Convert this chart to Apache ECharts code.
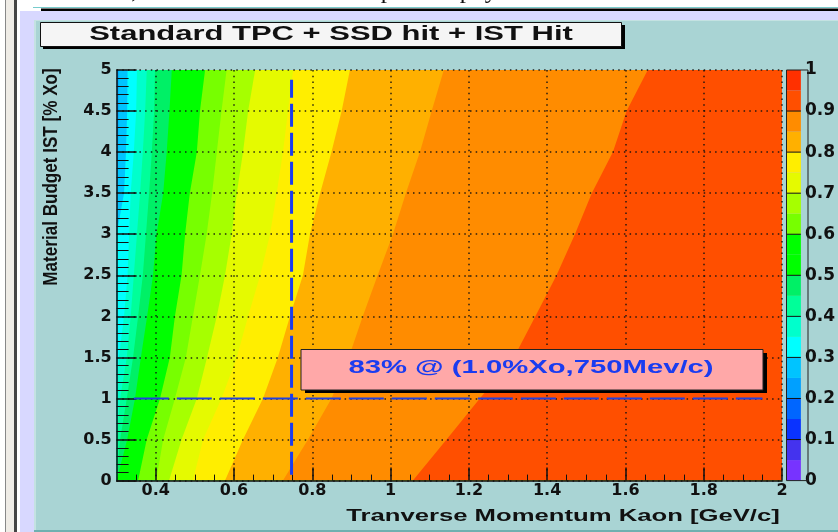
<!DOCTYPE html>
<html>
<head>
<meta charset="utf-8">
<style>
  html, body { margin: 0; padding: 0; background: #fff; }
  #chart { width: 838px; height: 532px; }
</style>
<script src="https://cdn.jsdelivr.net/npm/echarts@6/dist/echarts.min.js"></script>
</head>
<body>
<div id="chart"></div>
<script>
// y rows the contour edges were read at
const yRows = [0, 0.5, 1, 1.5, 2, 2.5, 3, 3.5, 4, 4.5, 5];

// pT of each contour edge at the rows above
const edge25 = [0.3, 0.3, 0.3, 0.3, 0.3, 0.3, 0.3, 0.301, 0.304, 0.305, 0.305];
const edge30 = [0.3, 0.3, 0.3, 0.3, 0.3, 0.3, 0.3, 0.319, 0.324, 0.327, 0.328];
const edge35 = [0.3, 0.3, 0.3, 0.306, 0.319, 0.328, 0.332, 0.336, 0.344, 0.35, 0.352];
const edge40 = [0.3, 0.3, 0.309, 0.326, 0.336, 0.344, 0.352, 0.36, 0.367, 0.373, 0.377];
const edge45 = [0.3, 0.309, 0.326, 0.342, 0.355, 0.367, 0.375, 0.383, 0.39, 0.396, 0.398];
const edge50 = [0.3, 0.327, 0.347, 0.362, 0.378, 0.393, 0.402, 0.419, 0.428, 0.435, 0.441];
const edge60 = [0.355, 0.377, 0.411, 0.436, 0.449, 0.466, 0.475, 0.487, 0.505, 0.513, 0.526];
const edge65 = [0.401, 0.419, 0.449, 0.477, 0.495, 0.513, 0.53, 0.544, 0.556, 0.568, 0.581];
const edge70 = [0.434, 0.466, 0.505, 0.531, 0.556, 0.577, 0.594, 0.607, 0.623, 0.636, 0.654];
const edge75 = [0.495, 0.521, 0.568, 0.607, 0.636, 0.667, 0.692, 0.709, 0.725, 0.738, 0.751];
const edge80 = [0.577, 0.623, 0.674, 0.712, 0.743, 0.776, 0.794, 0.82, 0.849, 0.875, 0.896];
const edge85 = [0.725, 0.789, 0.849, 0.893, 0.929, 0.967, 1.006, 1.039, 1.075, 1.105, 1.136];
const edge90 = [1.057, 1.143, 1.228, 1.315, 1.37, 1.424, 1.471, 1.514, 1.568, 1.603, 1.657];

const contourLevels = [0.25, 0.3, 0.35, 0.4, 0.45, 0.5, 0.6, 0.65, 0.7, 0.75, 0.8, 0.85, 0.9];
const contourEdges = [edge25, edge30, edge35, edge40, edge45, edge50, edge60, edge65, edge70, edge75, edge80, edge85, edge90];

// palette, 20 steps of 0.05 from 0 to 1
const paletteColors = [
  '#7733ff', '#4433ee', '#0a33ff', '#0066ff', '#00a0ff',
  '#00c4ff', '#00ffff', '#00ffcc', '#00ff99', '#00f066',
  '#00ff00', '#00ff00', '#77ff00', '#a6ff00', '#e5fa00',
  '#ffee00', '#ffb000', '#ff8c00', '#ff4f00', '#ff3000',
];
const paletteLevels = paletteColors.map((c, i) => i);

const xTicks = [0.4, 0.6, 0.8, 1, 1.2, 1.4, 1.6, 1.8, 2];
const xMinorTicks = [0.35, 0.45, 0.5, 0.55, 0.65, 0.7, 0.75, 0.85, 0.9, 0.95, 1.05, 1.1, 1.15, 1.25, 1.3, 1.35, 1.45, 1.5, 1.55, 1.65, 1.7, 1.75, 1.85, 1.9, 1.95];

// the two blue marker lines
const markerVerticalX = [0.747, 0.747];
const markerVerticalY = [0.07, 4.88];
const markerHorizontalX = [0.344, 1.95];
const markerHorizontalY = [1, 1];

const titleText = 'Standard TPC + SSD hit + IST Hit';
const noteText = '83% @ (1.0%Xo,750Mev/c)';
const xName = 'Tranverse Momentum Kaon [GeV/c]';
const yName = 'Material Budget IST [% Xo]';
const pageText = 'less than 1%, which has minimum impact on physics.';

const panelColor = '#a9d4d4';
const lavender = '#d8d8ff';
const labelFont = { color: '#111', fontFamily: 'DejaVu Sans', fontWeight: 'bold', fontSize: 16 };
const gridDots = { color: '#111', width: 1.5, type: [1.5, 4.2], opacity: 0.9 };

function renderBand(params, api) {
  const i = api.value(0);
  const edge = i < 0 ? null : contourEdges[i];
  const points = [];
  yRows.forEach((y, k) => points.push(api.coord([edge ? edge[k] : 0.3, y])));
  points.push(api.coord([2, 5]));
  points.push(api.coord([2, 0]));
  const level = i < 0 ? 0.2 : contourLevels[i];
  return {
    type: 'polygon',
    shape: { points },
    style: { fill: paletteColors[Math.round(level / 0.05)] },
  };
}

// one palette step, every second step also carries the black tick line on its lower edge
function renderPaletteStep(params, api) {
  const i = api.value(0);
  const a = api.coord([0, i * 0.05]);
  const b = api.coord([1, (i + 1) * 0.05]);
  const children = [{
    type: 'rect',
    shape: { x: a[0], y: b[1], width: b[0] - a[0], height: a[1] - b[1] },
    style: { fill: paletteColors[i] },
  }];
  if (i % 2 === 0 && i > 0) {
    children.push({
      type: 'line', z2: 5,
      shape: { x1: a[0], y1: a[1], x2: b[0], y2: a[1] },
      style: { stroke: '#111', lineWidth: 1 },
    });
  }
  return { type: 'group', children };
}

function box(x, y, width, height, fill, z, stroke, zlevel) {
  return { type: 'rect', z, zlevel: zlevel || 0, shape: { x, y, width, height }, style: { fill, stroke: stroke || null, lineWidth: stroke ? 1 : 0 } };
}

function label(text, x, y, fontSize, fill, scaleX, rotation) {
  return {
    type: 'text', x, y, scaleX, rotation: rotation || 0, z: 30, zlevel: 2,
    style: {
      text, fill, textAlign: 'center', textVerticalAlign: 'middle',
      font: 'bold ' + fontSize + 'px "Liberation Sans"',
    },
  };
}

const chart = echarts.init(document.getElementById('chart'), null, { renderer: 'canvas' });

chart.setOption({
  backgroundColor: '#fff',
  animation: false,
  graphic: [
    // page around the canvas
    box(5, 0, 1, 532, '#888', -20),
    box(6, 0, 8, 532, '#efece6', -20),
    box(14, 0, 3, 532, '#444', -20),
    box(20, 11, 818, 521, lavender, -20),
    box(33, 7, 805, 1, '#7cc', -19),
    box(41, 8.5, 797, 2.5, '#000', -19),
    box(34, 20, 804, 512, '#c4e2e2', -19),
    box(36, 21, 802, 509, panelColor, -18),
    box(34, 530, 804, 2, '#6fb0b0', -18),
    {
      type: 'text', x: 5, y: 4, z: -17,
      style: { text: pageText, fill: '#111', font: '25px "Liberation Serif"', textVerticalAlign: 'bottom' },
    },
    // title box
    box(43, 25, 582, 24, '#000', 20, null, 2),
    box(40.5, 22.5, 581, 24, '#f5f5f5', 21, '#111', 2),
    label(titleText, 331, 34.5, 21, '#111', 1.475),
    // axis names
    label(xName, 563, 516, 17, '#111', 1.51),
    label(yName, 51, 177, 20, '#111', 0.854, Math.PI / 2),
    // note box
    box(305, 353, 462, 40, '#000', 20, null, 2),
    box(301, 349.5, 462, 40.5, '#ffa8a8', 21, '#222', 2),
    label(noteText, 531, 368, 19, '#1a3cf0', 1.54),
    // palette frame
    { type: 'rect', z: 22, zlevel: 2, shape: { x: 786.5, y: 70, width: 21.5, height: 410.6 }, style: { fill: null, stroke: '#222', lineWidth: 1 } },
  ],
  grid: [
    { left: 116.6, right: 56, top: 70, bottom: 51.4 },
    { left: 786.5, width: 21.5, top: 70, bottom: 51.4 },
  ],
  xAxis: [
    {
      type: 'value', min: 0.3, max: 2, gridIndex: 0, position: 'bottom', zlevel: 1,
      axisLine: { show: true, onZero: false, lineStyle: { color: '#111', width: 1.5 } },
      axisTick: { show: true, inside: true, length: 13, customValues: xTicks, lineStyle: { color: '#111', width: 1.5 } },
      axisLabel: { ...labelFont, margin: 2, customValues: xTicks },
      splitLine: { show: true, customValues: xTicks, lineStyle: gridDots },
    },
    {
      type: 'value', min: 0.3, max: 2, gridIndex: 0, position: 'bottom', zlevel: 1,
      axisLine: { show: false, onZero: false },
      axisTick: { show: true, inside: true, length: 6, customValues: xMinorTicks, lineStyle: { color: '#111', width: 1 } },
      axisLabel: { show: false },
      splitLine: { show: false },
    },
    {
      type: 'value', min: 0, max: 1, gridIndex: 1,
      axisLine: { show: false }, axisTick: { show: false }, axisLabel: { show: false }, splitLine: { show: false },
    },
  ],
  yAxis: [
    {
      type: 'value', min: 0, max: 5, interval: 0.5, gridIndex: 0, zlevel: 1,
      axisLine: { show: true, onZero: false, lineStyle: { color: '#111', width: 1.5 } },
      axisTick: { show: true, inside: true, length: 20, lineStyle: { color: '#111', width: 1.5 } },
      minorTick: { show: true, splitNumber: 5, length: 12, lineStyle: { color: '#111', width: 1 } },
      axisLabel: { ...labelFont, margin: 5 },
      splitLine: { show: true, lineStyle: gridDots },
    },
    {
      type: 'value', min: 0, max: 1, interval: 0.1, gridIndex: 1, position: 'right', zlevel: 1,
      axisLine: { show: false },
      axisTick: { show: false },
      axisLabel: { ...labelFont, fontSize: 17, margin: 4 },
      splitLine: { show: false },
    },
  ],
  series: [
    {
      type: 'custom', xAxisIndex: 0, yAxisIndex: 0, z: 1, silent: true, clip: true,
      renderItem: renderBand,
      data: [-1].concat(contourLevels.map((l, i) => i)).map((i) => [i]),
      encode: { x: -1, y: -1 },
    },
    {
      type: 'custom', xAxisIndex: 2, yAxisIndex: 1, z: 1, silent: true,
      renderItem: renderPaletteStep,
      data: paletteLevels.map((i) => [i]),
      encode: { x: -1, y: -1 },
    },
    {
      type: 'line', xAxisIndex: 0, yAxisIndex: 0, zlevel: 1, z: 8, symbol: 'none', silent: true,
      data: markerVerticalX.map((x, i) => [x, markerVerticalY[i]]),
      lineStyle: { color: '#1a3cf0', width: 3, type: [23, 6] },
    },
    {
      type: 'line', xAxisIndex: 0, yAxisIndex: 0, zlevel: 1, z: 8, symbol: 'none', silent: true,
      data: markerHorizontalX.map((x, i) => [x, markerHorizontalY[i]]),
      lineStyle: { color: '#2040e0', width: 2, type: [35, 8] },
    },
  ],
});
</script>
</body>
</html>
